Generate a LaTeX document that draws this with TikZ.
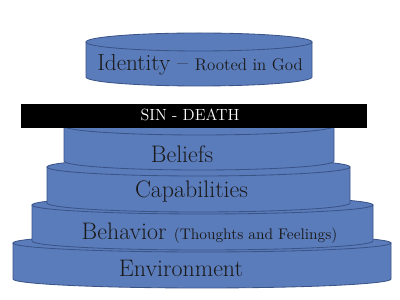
\documentclass[tikz,border=0pt]{standalone}
\usepackage{tikz}
\usetikzlibrary{positioning}
\definecolor{tierblue}{HTML}{5B7CBB}
\definecolor{tierline}{HTML}{3A5488}
\definecolor{tierink}{HTML}{1A1A1A}
\newcommand{\drawtier}[4]{%
  \fill[tierblue] ({#1-#2},-#3) -- ({#1-#2},-#4)
    arc[start angle=180, end angle=360, x radius=#2, y radius=9]
    -- ({#1+#2},-#3) -- cycle;
  \draw[tieredge] ({#1-#2},-#3) -- ({#1-#2},-#4)
    arc[start angle=180, end angle=360, x radius=#2, y radius=9]
    -- ({#1+#2},-#3);
  \filldraw[tieredge, fill=tierblue] (#1,-#3) ellipse[x radius=#2, y radius=9];
}

\begin{document}
\begin{tikzpicture}[
    x=0.025cm, y=0.025cm,
    tieredge/.style={draw=tierline, semithick},
    label/.style={anchor=base, inner sep=0pt, text=tierink,
      font=\fontsize{17}{20}\selectfont}
  ]
    \useasboundingbox (0,0) rectangle (400,-300);
    \fill[white] (0,0) rectangle (400,-300);
    \drawtier{202}{189}{243}{279}
    \drawtier{202.5}{170.5}{205}{241}
    \drawtier{198.5}{151.5}{167}{203}
    \drawtier{199}{135}{126}{161}
    \node[fill=black, minimum width=346*0.025cm, minimum height=24*0.025cm,
      inner sep=0pt] (bar) at (194,-116) {};
    \node[anchor=base, text=white, inner sep=0pt,
      font=\fontsize{11.5}{13}\selectfont] (sin) at (190,-121) {SIN - DEATH};
    \drawtier{199}{113}{42}{77}
    \node[label, font=\fontsize{16.5}{19}\selectfont] (identity) at (200,-71)
      {Identity -- {\fontsize{12}{14}\selectfont Rooted in God}};
    \node[label] (beliefs) at (182,-163) {Beliefs};
    \node[label] (capab) at (191.5,-198) {Capabilities};
    \node[label] (behavior) at (209.5,-240)
      {Behavior {\fontsize{10.9}{13}\selectfont (Thoughts and Feelings)}};
    \node[label] (environ) at (181,-277) {Environment};
\end{tikzpicture}
\end{document}
